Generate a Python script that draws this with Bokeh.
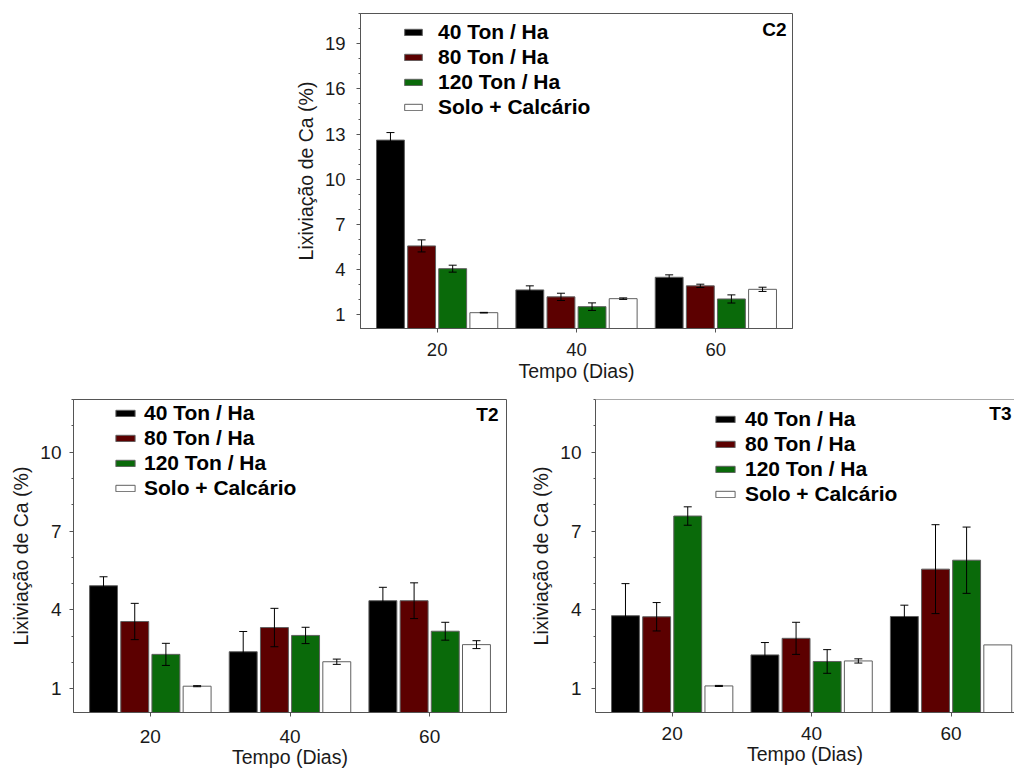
from bokeh.plotting import figure
from bokeh.layouts import row, column
from bokeh.models import (ColumnDataSource, FixedTicker, Range1d, Legend, LegendItem,
                          Whisker, TeeHead, Label, Span, Spacer)
from bokeh.embed import file_html
from bokeh.resources import INLINE

# Sampling days (x categories)
dias = [20, 40, 60]
series = ["40 Ton / Ha", "80 Ton / Ha", "120 Ton / Ha", "Solo + Calcário"]
colors = ["#000000", "#5c0000", "#0a6a0a", "#ffffff"]

# Ca leaching (%) and standard errors -- column C2
c2_40 = [12.60, 2.66, 3.50]
c2_40_err = [0.50, 0.27, 0.16]
c2_80 = [5.58, 2.20, 2.93]
c2_80_err = [0.40, 0.24, 0.11]
c2_120 = [4.07, 1.55, 2.06]
c2_120_err = [0.23, 0.25, 0.27]
c2_solo = [1.15, 2.08, 2.70]
c2_solo_err = [0.02, 0.05, 0.14]

# Ca leaching (%) and standard errors -- column T2
t2_40 = [4.92, 2.41, 4.35]
t2_40_err = [0.34, 0.77, 0.51]
t2_80 = [3.56, 3.33, 4.35]
t2_80_err = [0.69, 0.73, 0.68]
t2_120 = [2.31, 3.03, 3.19]
t2_120_err = [0.42, 0.31, 0.34]
t2_solo = [1.10, 2.03, 2.68]
t2_solo_err = [0.02, 0.10, 0.15]

# Ca leaching (%) and standard errors -- column T3
t3_40 = [3.78, 2.29, 3.75]
t3_40_err = [1.22, 0.47, 0.43]
t3_80 = [3.74, 2.92, 5.55]
t3_80_err = [0.54, 0.61, 1.69]
t3_120 = [7.57, 2.04, 5.89]
t3_120_err = [0.35, 0.45, 1.26]
t3_solo = [1.11, 2.06, 2.67]
t3_solo_err = [0.02, 0.08, 0.00]

c2_ticks = [1, 4, 7, 10, 13, 16, 19]
t_ticks = [1, 4, 7, 10]

FONT = "Liberation Sans"
TEXT = "#1a1a1a"
EDGE = "#555555"
BAR_EDGE = "#606060"
OFFSETS = [-6.7, -2.23, 2.23, 6.7]
BAR_W = 4.0


def make_panel(tag, values, errors, y_end, y_major, width, height, borders, x_end,
               tick_font, ytick_standoff, xtick_standoff, xlabel_standoff,
               leg, tag_cfg, right_edge=True):
    p = figure(width=width, height=height,
               x_range=Range1d(9, x_end), y_range=Range1d(0.1, y_end),
               output_backend="svg", toolbar_location=None,
               min_border_left=borders[0], min_border_right=borders[1],
               min_border_top=borders[2], min_border_bottom=borders[3])
    p.grid.visible = False
    p.background_fill_color = "white"
    p.border_fill_color = "white"
    p.outline_line_color = EDGE if right_edge else None
    p.outline_line_width = 1

    items = []
    for i, (name, col, v, e) in enumerate(zip(series, colors, values, errors)):
        xs = [d + OFFSETS[i] for d in dias]
        src = ColumnDataSource(dict(x=xs, top=v))
        r = p.vbar(x="x", top="top", bottom=0, width=BAR_W, source=src,
                   fill_color=col, line_color=BAR_EDGE, line_width=1)
        items.append(LegendItem(label=name, renderers=[r]))
        keep = [k for k in range(len(v)) if e[k] > 0]
        wsrc = ColumnDataSource(dict(
            x=[xs[k] for k in keep],
            upper=[v[k] + e[k] for k in keep],
            lower=[v[k] - e[k] for k in keep]))
        w = Whisker(source=wsrc, base="x", upper="upper", lower="lower",
                    line_color="black", line_width=1,
                    upper_head=TeeHead(size=8, line_color="black", line_width=1),
                    lower_head=TeeHead(size=8, line_color="black", line_width=1))
        w.level = "overlay"
        p.add_layout(w)

    # axes
    xa = p.xaxis[0]
    xa.ticker = FixedTicker(ticks=dias)
    xa.major_tick_in = 0
    xa.major_tick_out = 4
    xa.major_label_standoff = xtick_standoff
    xa.axis_label = "Tempo (Dias)"
    xa.axis_label_standoff = xlabel_standoff

    ya = p.yaxis[0]
    ya.ticker = FixedTicker(ticks=y_major, minor_ticks=list(range(0, int(y_end) + 1)))
    ya.major_tick_in = 0
    ya.major_tick_out = 4
    ya.minor_tick_in = 0
    ya.minor_tick_out = 2
    ya.major_label_standoff = ytick_standoff
    ya.axis_label = "Lixiviação de Ca (%)"
    ya.axis_label_standoff = 5

    for ax in (xa, ya):
        ax.axis_line_color = EDGE
        ax.major_tick_line_color = EDGE
        ax.minor_tick_line_color = EDGE if ax is ya else None
        ax.major_label_text_font = FONT
        ax.major_label_text_font_size = tick_font
        ax.major_label_text_color = TEXT
        ax.axis_label_text_font = FONT
        ax.axis_label_text_font_size = "19.5px"
        ax.axis_label_text_font_style = "normal"
        ax.axis_label_text_color = TEXT

    legend = Legend(items=items, location=leg["loc"],
                    glyph_width=leg["gw"], glyph_height=8,
                    label_standoff=leg["standoff"], spacing=1,
                    padding=0, margin=0,
                    border_line_color=None, background_fill_alpha=0,
                    label_text_font=FONT, label_text_font_size="21px",
                    label_text_font_style="bold", label_text_color="black")
    p.add_layout(legend)

    p.add_layout(Label(x=x_end, y=y_end, text=tag,
                       x_offset=tag_cfg[0], y_offset=tag_cfg[1],
                       text_align=tag_cfg[2], text_baseline="top",
                       text_font=FONT, text_font_style="bold",
                       text_font_size="19px", text_color="black"))
    if not right_edge:
        p.add_layout(Span(location=y_end, dimension="width",
                          line_color=EDGE, line_width=1))
    return p


c2 = make_panel("C2",
                [c2_40, c2_80, c2_120, c2_solo],
                [c2_40_err, c2_80_err, c2_120_err, c2_solo_err],
                21, c2_ticks, 520, 385, (70, 18, 13, 57), 71,
                "18.5px", 11, 10, 1, dict(loc=(42, 209), gw=22, standoff=14),
                (-6, -5, "right"))

t2 = make_panel("T2",
                [t2_40, t2_80, t2_120, t2_solo],
                [t2_40_err, t2_80_err, t2_120_err, t2_solo_err],
                12, t_ticks, 525, 389, (73, 19, 12, 62), 71,
                "19px", 8, 13, 0, dict(loc=(40, 212), gw=24, standoff=7),
                (-8, -4, "right"))

t3 = make_panel("T3",
                [t3_40, t3_80, t3_120, t3_solo],
                [t3_40_err, t3_80_err, t3_120_err, t3_solo_err],
                12, t_ticks, 489, 389, (70, 0, 14, 59), 69.1,
                "19px", 10, 10, 0, dict(loc=(118, 206), gw=24, standoff=8),
                (-3, -3, "right"), right_edge=False)

layout = column(row(Spacer(width=290, height=385), c2), row(t2, t3))

open("out.html", "w").write(file_html(layout, INLINE))
